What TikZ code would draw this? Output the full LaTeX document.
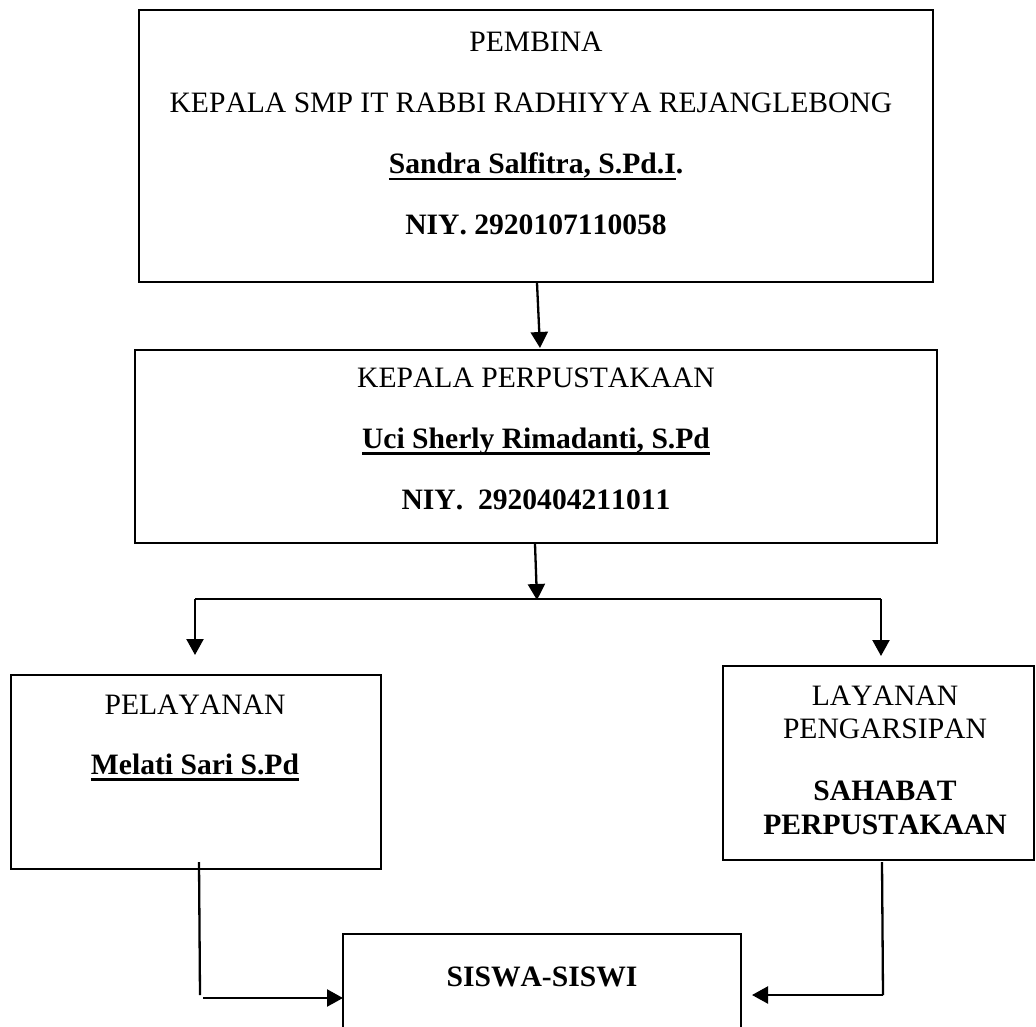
\documentclass[tikz,border=0pt]{standalone}
\usepackage{fontspec}
\setmainfont[Kerning=Off]{Liberation Serif}
\newcommand{\myul}[1]{\leavevmode\setbox0\hbox{#1}\rlap{\rule[-6.5pt]{\wd0}{2.2pt}}\box0}
\usetikzlibrary{arrows.meta}
\tikzset{
  box/.style={draw=black, line width=2.8pt, rectangle, inner sep=0pt, fill=white},
  txt/.style={anchor=base, inner sep=0pt, font=\fontsize{29.6}{34}\selectfont},
  conn/.style={draw=black, line width=2.3pt},
  arr/.style={conn, -{Triangle[length=16pt,width=17pt]}}
}
\begin{document}
\begin{tikzpicture}[x=1pt,y=-1pt]
\useasboundingbox (0,0) rectangle (1036,1027);
\fill[white] (0,0) rectangle (1036,1027);
\clip (0,0) rectangle (1036,1027);

% boxes
\node[box, minimum width=794pt, minimum height=272pt] (pembina) at (536,146) {};
\node[box, minimum width=802pt, minimum height=193pt] (kepala) at (536,446.5) {};
\node[box, minimum width=370pt, minimum height=194pt] (pelayanan) at (196,772) {};
\node[box, minimum width=311pt, minimum height=194pt] (layanan) at (878.5,763) {};
\node[box, minimum width=398pt, minimum height=166pt] (siswa) at (542,1017) {};

% texts
\node[txt] (t1) at (536,52) {PEMBINA};
\node[txt] (t2) at (531,113) {KEPALA SMP IT RABBI RADHIYYA REJANGLEBONG};
\node[txt] (t3) at (536,174) {\textbf{\myul{Sandra Salfitra, S.Pd.I}.}};
\node[txt] (t4) at (536,235) {\textbf{NIY. 2920107110058}};

\node[txt] (k1) at (536,387) {KEPALA PERPUSTAKAAN};
\node[txt] (k2) at (536,448) {\textbf{\myul{Uci Sherly Rimadanti, S.Pd}}};
\node[txt] (k3) at (536,509) {\textbf{NIY.\ \ 2920404211011}};

\node[txt] (p1) at (195,714) {PELAYANAN};
\node[txt] (p2) at (195,774) {\textbf{\myul{Melati Sari S.Pd}}};

\node[txt] (l1) at (885,705) {LAYANAN};
\node[txt] (l2) at (885,738) {PENGARSIPAN};
\node[txt] (l3) at (885,800) {\textbf{SAHABAT}};
\node[txt] (l4) at (885,834) {\textbf{PERPUSTAKAAN}};

\node[txt] (s1) at (542,986) {\textbf{SISWA-SISWI}};

% connector points
\coordinate (a1s) at (537,283);
\coordinate (a1e) at (540,348);
\coordinate (a2s) at (535,544);
\coordinate (a2e) at (537,600);
\coordinate (hl) at (195,599);
\coordinate (hr) at (881,599);
\coordinate (dl) at (195,655);
\coordinate (dr) at (881,656);
\coordinate (lv1) at (199,862);
\coordinate (lv2) at (200,995);
\coordinate (lh1) at (203,998);
\coordinate (lh2) at (343,998);
\coordinate (rv1) at (882,862);
\coordinate (rv2) at (883,995);
\coordinate (rh1) at (883,995);
\coordinate (rh2) at (752,995);

\draw[arr] (a1s) -- (a1e);
\draw[arr] (a2s) -- (a2e);
\draw[conn] (hl) -- (hr);
\draw[arr] (hl) -- (dl);
\draw[arr] (hr) -- (dr);
\draw[conn] (lv1) -- (lv2);
\draw[arr] (lh1) -- (lh2);
\draw[conn] (rv1) -- (rv2);
\draw[arr] (rh1) -- (rh2);
\end{tikzpicture}
\end{document}
